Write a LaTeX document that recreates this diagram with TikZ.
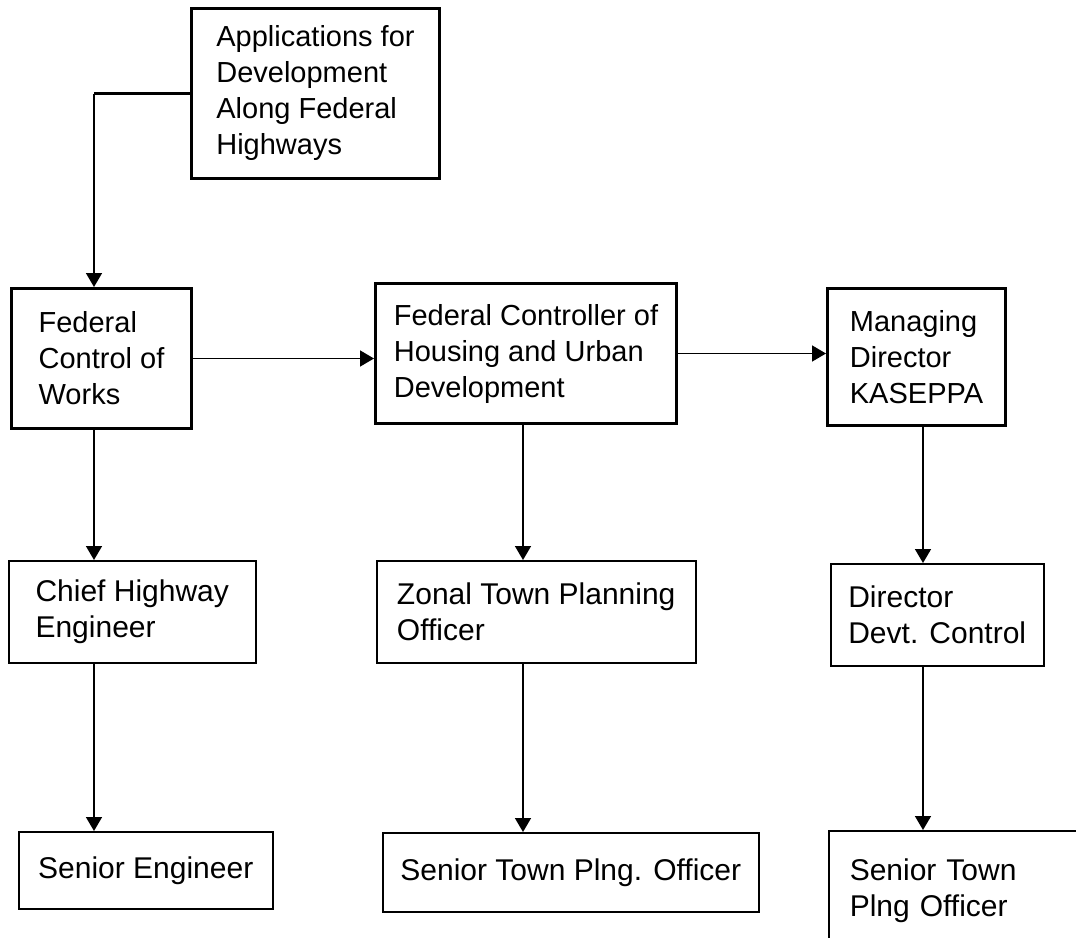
\documentclass[tikz,border=0pt]{standalone}
\usepackage{fontspec}
\setmainfont{Liberation Sans}
\usetikzlibrary{arrows.meta}
\tikzset{
  box/.style={draw, line width=0.75pt, align=left, anchor=north west, inner sep=0pt,
    font=\fontsize{15}{18}\selectfont},
  heavybox/.style={box, line width=1.5pt, font=\fontsize{14.5}{18}\selectfont},
  conn/.style={line width=0.8pt, -{Triangle[length=7pt,width=8pt]}},
}
\begin{document}
\begin{tikzpicture}[x=0.5pt, y=-0.5pt]
  \clip (0,0) rectangle (1076,937);
  % columns of the vertical arrows
  \coordinate (colL) at (94,0);
  \coordinate (colM) at (523,0);
  \coordinate (colR) at (923,0);
  % top row
  \node[heavybox, minimum width=124pt, minimum height=85pt] (apps) at (190,7)
    {Applications for\\Development\\Along Federal\\Highways};
  % second row
  \node[heavybox, minimum width=90pt, minimum height=70pt] (fcw) at (10,287)
    {Federal\\Control of\\Works};
  \node[heavybox, minimum width=150.5pt, minimum height=70pt] (fchud) at (374,282)
    {Federal Controller of\\Housing and Urban\\Development};
  \node[heavybox, minimum width=89pt, minimum height=68.5pt] (mdk) at (826,287)
    {Managing\\Director\\KASEPPA};
  % third row
  \node[box, minimum width=123.5pt, minimum height=51pt] (che) at (8,560)
    {Chief Highway\\Engineer};
  \node[box, minimum width=159.5pt, minimum height=51pt] (ztpo) at (376,560)
    {Zonal Town Planning\\Officer};
  \node[box, minimum width=106.5pt, minimum height=51pt] (ddc) at (830,563)
    {Director\\Devt. Control};
  % bottom row
  \node[box, minimum width=127pt, minimum height=38.5pt] (se) at (18,831)
    {Senior Engineer};
  \node[box, minimum width=188pt, minimum height=39.5pt] (stpo) at (382,832)
    {Senior Town Plng. Officer};
  \node[box, text width=110pt, inner xsep=10.5pt, minimum height=60pt] (stpok) at (828,830)
    {Senior Town\\Plng Officer};
  % connectors
  \draw[line width=1.5pt] (apps.west) -- (apps.west -| colL);
  \draw[conn] (apps.west -| colL) -- (fcw.north -| colL);
  \draw[conn] (fcw.east) -- (fcw.east -| fchud.west);
  \draw[conn] (fchud.east) -- (fchud.east -| mdk.west);
  \draw[conn] (fcw.south -| colL) -- (che.north -| colL);
  \draw[conn] (che.south -| colL) -- (se.north -| colL);
  \draw[conn] (fchud.south -| colM) -- (ztpo.north -| colM);
  \draw[conn] (ztpo.south -| colM) -- (stpo.north -| colM);
  \draw[conn] (mdk.south -| colR) -- (ddc.north -| colR);
  \draw[conn] (ddc.south -| colR) -- (stpok.north -| colR);
\end{tikzpicture}
\end{document}
